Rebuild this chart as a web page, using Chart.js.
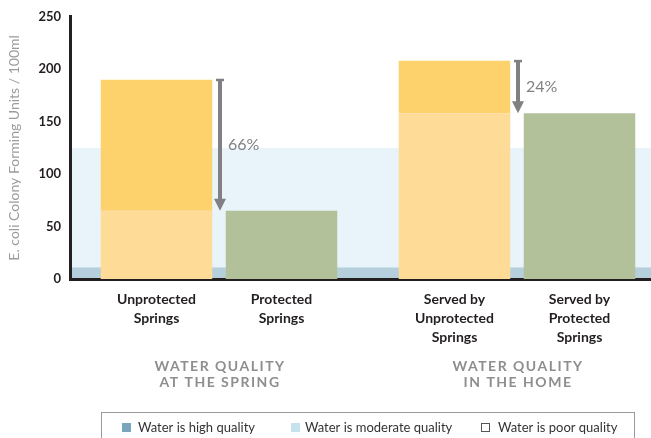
<!DOCTYPE html>
<html><head><meta charset="utf-8">
<script src="https://cdn.jsdelivr.net/npm/chart.js@4/dist/chart.umd.min.js"></script>
<style>
html,body{margin:0;padding:0;background:#fff;overflow:hidden}
#wrap{width:651px;height:438px;overflow:hidden;position:relative}
canvas{display:block}
</style></head>
<body><div id="wrap"><canvas id="c" width="666" height="438"></canvas></div>
<script>
// ---- data ----
const groupLabels = [['WATER QUALITY','AT THE SPRING'], ['WATER QUALITY','IN THE HOME']];
const unprotectedLabels = [['Unprotected','Springs'], ['Served by','Unprotected','Springs']];
const protectedLabels = [['Protected','Springs'], ['Served by','Protected','Springs']];
const unprotectedValues = [190, 208];
const protectedValues = [65, 158];
const reductionLabels = ['66%', '24%'];
const yTickValues = [0, 50, 100, 150, 200, 250];
const highQualityLimit = 11;
const moderateQualityLimit = 125;
const legendLabels = ['Water is high quality', 'Water is moderate quality', 'Water is poor quality'];
const yAxisTitle = 'E. coli Colony Forming Units / 100ml';

// ---- styles ----
const C = {
  lightOrange: '#fedc98', darkOrange: '#fdd16b', green: '#b3c19b',
  bandModerate: '#e8f4fa', bandHigh: '#b5cfdc',
  legendHigh: '#79a6bb', legendModerate: '#c6e2ef',
  axis: '#231f20', text: '#231f20', gray: '#8e8e8e', arrow: '#808083', title: '#9c9c9c'
};
const FONT = 'Lato, "Open Sans", sans-serif';

const excessValues = unprotectedValues.map((v, i) => v - protectedValues[i]);

const decor = {
  id: 'decor',
  beforeDraw(chart) {
    const ctx = chart.ctx, a = chart.chartArea, y = chart.scales.y;
    ctx.save();
    const x0 = a.left + 1.5, w = chart.width - x0;
    const yb = y.getPixelForValue(0);
    ctx.fillStyle = C.bandModerate;
    ctx.fillRect(x0, y.getPixelForValue(moderateQualityLimit), w, yb - y.getPixelForValue(moderateQualityLimit));
    ctx.fillStyle = C.bandHigh;
    ctx.fillRect(x0, y.getPixelForValue(highQualityLimit), w, yb - y.getPixelForValue(highQualityLimit));
    ctx.restore();
  },
  afterDatasetsDraw(chart) {
    const ctx = chart.ctx, y = chart.scales.y;
    const mU = chart.getDatasetMeta(1), mP = chart.getDatasetMeta(2);
    ctx.save();
    for (let i = 0; i < unprotectedValues.length; i++) {
      const bu = mU.data[i], bp = mP.data[i];
      const x = Math.round(((bu.x + bu.width / 2) + (bp.x - bp.width / 2)) / 2) + 1;
      const yTop = y.getPixelForValue(unprotectedValues[i]);
      const yTip = y.getPixelForValue(protectedValues[i]);
      ctx.fillStyle = C.arrow;
      ctx.fillRect(x - 4, yTop - 1, 8, 2.5);
      ctx.fillRect(x - 2, yTop, 4, yTip - yTop - 10);
      ctx.beginPath();
      ctx.moveTo(x - 6, yTip - 12);
      ctx.lineTo(x + 6, yTip - 12);
      ctx.lineTo(x, yTip);
      ctx.closePath();
      ctx.fill();
      ctx.font = '16px ' + FONT;
      ctx.textAlign = 'left';
      ctx.textBaseline = 'middle';
      ctx.fillText(reductionLabels[i], x + 8, (yTop + yTip) / 2);
    }
    ctx.restore();
  },
  afterDraw(chart) {
    const ctx = chart.ctx, a = chart.chartArea, xs = chart.scales.x;
    const mU = chart.getDatasetMeta(1), mP = chart.getDatasetMeta(2);
    ctx.save();
    // category labels
    ctx.fillStyle = C.text;
    ctx.font = 'bold 14px ' + FONT;
    ctx.textAlign = 'center';
    ctx.textBaseline = 'middle';
    const lineH = 19;
    for (let i = 0; i < unprotectedLabels.length; i++) {
      const sets = [[mU.data[i].x, unprotectedLabels[i]], [mP.data[i].x, protectedLabels[i]]];
      sets.forEach(([x, lines]) => {
        lines.forEach((t, k) => ctx.fillText(t, x, a.bottom + 20 + k * lineH));
      });
    }
    // group labels
    ctx.fillStyle = C.gray;
    ctx.font = 'bold 14px ' + FONT;
    ctx.letterSpacing = '1.5px';
    for (let i = 0; i < groupLabels.length; i++) {
      const x = xs.getPixelForValue(i);
      groupLabels[i].forEach((t, k) => ctx.fillText(t, x + 1, a.bottom + 87 + k * 16));
    }
    ctx.letterSpacing = '0px';
    // legend box
    ctx.strokeStyle = '#9a9a9a';
    ctx.lineWidth = 1;
    ctx.strokeRect(101.5, 412.5, 533, 60);
    const items = [
      {sx: 122, tx: 138, fill: C.legendHigh},
      {sx: 291, tx: 305, fill: C.legendModerate},
      {sx: 481, tx: 498, fill: null}
    ];
    ctx.font = '13px ' + FONT;
    ctx.textAlign = 'left';
    ctx.fillStyle = '#333';
    items.forEach((it, i) => {
      if (it.fill) { ctx.fillStyle = it.fill; ctx.fillRect(it.sx, 423, 9, 9); }
      else { ctx.strokeStyle = '#555'; ctx.strokeRect(it.sx + 0.5, 423.5, 8, 8); }
      ctx.fillStyle = '#333';
      ctx.fillText(legendLabels[i], it.tx, 428);
    });
    ctx.restore();
  }
};

new Chart(document.getElementById('c'), {
  type: 'bar',
  data: {
    labels: groupLabels.map(g => g.join(' ')),
    datasets: [
      {label: 'Unprotected (protected level)', data: protectedValues, backgroundColor: C.lightOrange, stack: 'u'},
      {label: 'Unprotected (excess)', data: excessValues, backgroundColor: C.darkOrange, stack: 'u'},
      {label: 'Protected', data: protectedValues, backgroundColor: C.green, stack: 'p'}
    ]
  },
  options: {
    responsive: false,
    devicePixelRatio: 1,
    animation: false,
    categoryPercentage: 0.839,
    barPercentage: 0.892,
    layout: {padding: {top: 15, left: 0, right: 0, bottom: 0}},
    plugins: {legend: {display: false}, tooltip: {enabled: false}},
    scales: {
      x: {
        stacked: true,
        grid: {display: false, drawTicks: false},
        border: {display: true, color: C.axis, width: 3},
        ticks: {display: false},
        afterFit(s) { s.height = 159; }
      },
      y: {
        stacked: true,
        min: 0, max: 250,
        afterBuildTicks(s) { s.ticks = yTickValues.map(v => ({value: v})); },
        grid: {display: false, drawTicks: false},
        border: {display: true, color: C.axis, width: 3},
        ticks: {color: C.text, font: {family: FONT, size: 13, weight: 'bold'}, padding: 9},
        title: {display: true, text: yAxisTitle, color: C.title, font: {family: FONT, size: 14}, padding: {top: 6, bottom: 0}},
        afterFit(s) { s.width = 70; }
      }
    }
  },
  plugins: [decor]
});
</script>
</body></html>
